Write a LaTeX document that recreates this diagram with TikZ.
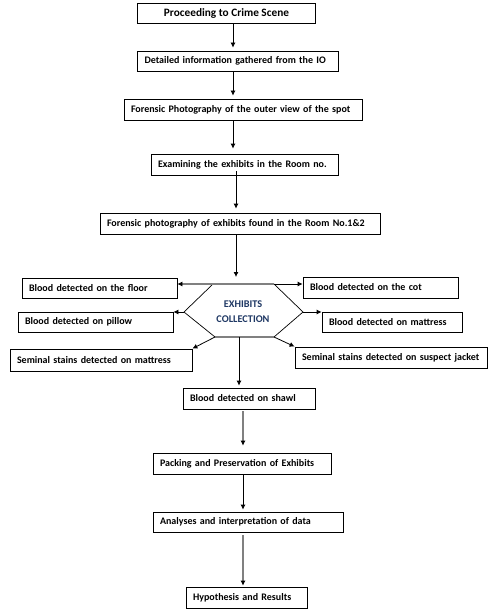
\documentclass[tikz,border=0pt]{standalone}
\usepackage{fontspec}
\setmainfont{Carlito}
\usetikzlibrary{arrows.meta}
\definecolor{hexblue}{RGB}{31,56,100}
\definecolor{linegray}{RGB}{128,128,128}
\tikzset{
  box/.style={draw=black, line width=0.8pt, inner xsep=7pt, inner ysep=0pt, align=left, font=\bfseries\fontsize{10}{12}\selectfont},
  bigbox/.style={draw=black, line width=0.8pt, inner sep=0pt, font=\bfseries\fontsize{11.3}{13}\selectfont},
  arr/.style={draw=black, line width=0.8pt, -{Latex[length=5pt,width=5pt]}},
  hexthin/.style={draw=black, line width=0.7pt},
  hexthick/.style={draw=linegray, line width=1.8pt},
  grayline/.style={draw=linegray, line width=1.3pt},
}
\begin{document}
\begin{tikzpicture}[x=1pt,y=-1pt]
\useasboundingbox (0,0) rectangle (494,615);
% columns
\coordinate (xa) at (233,0);
\coordinate (xb) at (236,0);
\coordinate (xc) at (243,0);
% main boxes
\node[bigbox, minimum width=178pt, minimum height=20pt] (b1) at (226.5,13) {Proceeding to Crime Scene};
\node[box, text width=187pt, minimum height=20pt] (b2) at (238,61) {\mbox{Detailed information gathered from the IO}};
\node[box, text width=224pt, minimum height=21pt] (b3) at (243,109.5) {\mbox{Forensic Photography of the outer view of the spot}};
\node[box, text width=173pt, minimum height=21pt] (b4) at (244.5,164.5) {\mbox{Examining the exhibits in the Room no.}};
\node[box, text width=266pt, minimum height=21pt] (b5) at (240,223.5) {\mbox{Forensic photography of exhibits found in the Room No.1\&2}};
% side boxes
\node[box, text width=141pt, minimum height=20pt] (floor) at (99.5,288) {\mbox{Blood detected on the floor}};
\node[box, text width=141pt, minimum height=21pt] (cot) at (380.5,287.5) {\mbox{Blood detected on the cot}};
\node[box, text width=141pt, minimum height=20pt] (pillow) at (95.5,322) {\mbox{Blood detected on pillow}};
\node[box, text width=126pt, minimum height=20pt] (matt) at (392,322) {\mbox{Blood detected on mattress}};
\node[box, text width=168pt, minimum height=22pt] (smatt) at (101,360) {\mbox{Seminal stains detected on mattress}};
\node[box, text width=178pt, minimum height=21pt] (jack) at (391,357.5) {\mbox{Seminal stains detected on suspect jacket}};
\node[box, text width=118pt, minimum height=21pt] (shawl) at (249,398.5) {\mbox{Blood detected on shawl}};
% lower boxes
\node[box, text width=164pt, minimum height=21pt] (pack) at (242,463.5) {\mbox{Packing and Preservation of Exhibits}};
\node[box, text width=176pt, minimum height=20pt] (anal) at (248,522) {\mbox{Analyses and interpretation of data}};
\node[box, text width=107pt, minimum height=21pt] (hyp) at (246.5,597.5) {\mbox{Hypothesis and Results}};
% hexagon
\coordinate (hTL) at (213,284);
\coordinate (hTR) at (274,284);
\coordinate (hR) at (303,312);
\coordinate (hBR) at (274,337);
\coordinate (hBL) at (215,337);
\coordinate (hL) at (184,312);
\coordinate (hB) at (239,337);
\coordinate (hTop) at (236,277);
\draw[hexthin] (hTR) -- (hR) -- (hBR);
\draw[hexthin] (hBL) -- (hL) -- (hTL);
\draw[hexthick] (hTL) -- (hTR);
\draw[hexthick] (hBL) -- (hBR);
\node[font=\bfseries\fontsize{10.3}{15}\selectfont, text=hexblue, align=center] (hex) at (243,312) {EXHIBITS\\COLLECTION};
% main arrows
\draw[arr] (b1.south -| xa) -- ([yshift=3pt]b2.north -| xa);
\draw[arr] (b2.south -| xa) -- ([yshift=3pt]b3.north -| xa);
\draw[arr] (b3.south -| xa) -- ([yshift=5pt]b4.north -| xa);
\draw[arr] ([yshift=4pt]b4.south -| xb) -- ([yshift=4pt]b5.north -| xb);
\draw[arr] (b5.south -| xb) -- (hTop);
% hexagon arrows
\draw[hexthick] (hTL) -- ([xshift=4pt]floor.east |- hTL);
\draw[arr] ([xshift=4pt]floor.east |- hTL) -- (floor.east |- hTL);
\draw[arr] (hTR) -- (cot.west |- hTR);
\draw[arr] (hL) -- (pillow.east |- hL);
\draw[arr] (hR) -- (matt.west |- hR);
\draw[arr] (hBL) -- (smatt.north east);
\draw[arr] (hBR) -- (jack.north west);
\draw[arr] (hB) -- ([yshift=2pt]shawl.north -| hB);
% lower arrows
\draw[grayline] ([yshift=-2pt]shawl.south -| xc) -- ([yshift=12pt]pack.north -| xc);
\draw[arr] ([yshift=12pt]pack.north -| xc) -- ([yshift=7pt]pack.north -| xc);
\draw[arr] (pack.south -| xc) -- ([yshift=2pt]anal.north -| xc);
\draw[grayline] ([yshift=-3pt]anal.south -| xc) -- ([yshift=4pt]hyp.north -| xc);
\draw[arr] ([yshift=4pt]hyp.north -| xc) -- ([yshift=1pt]hyp.north -| xc);
\end{tikzpicture}
\end{document}
